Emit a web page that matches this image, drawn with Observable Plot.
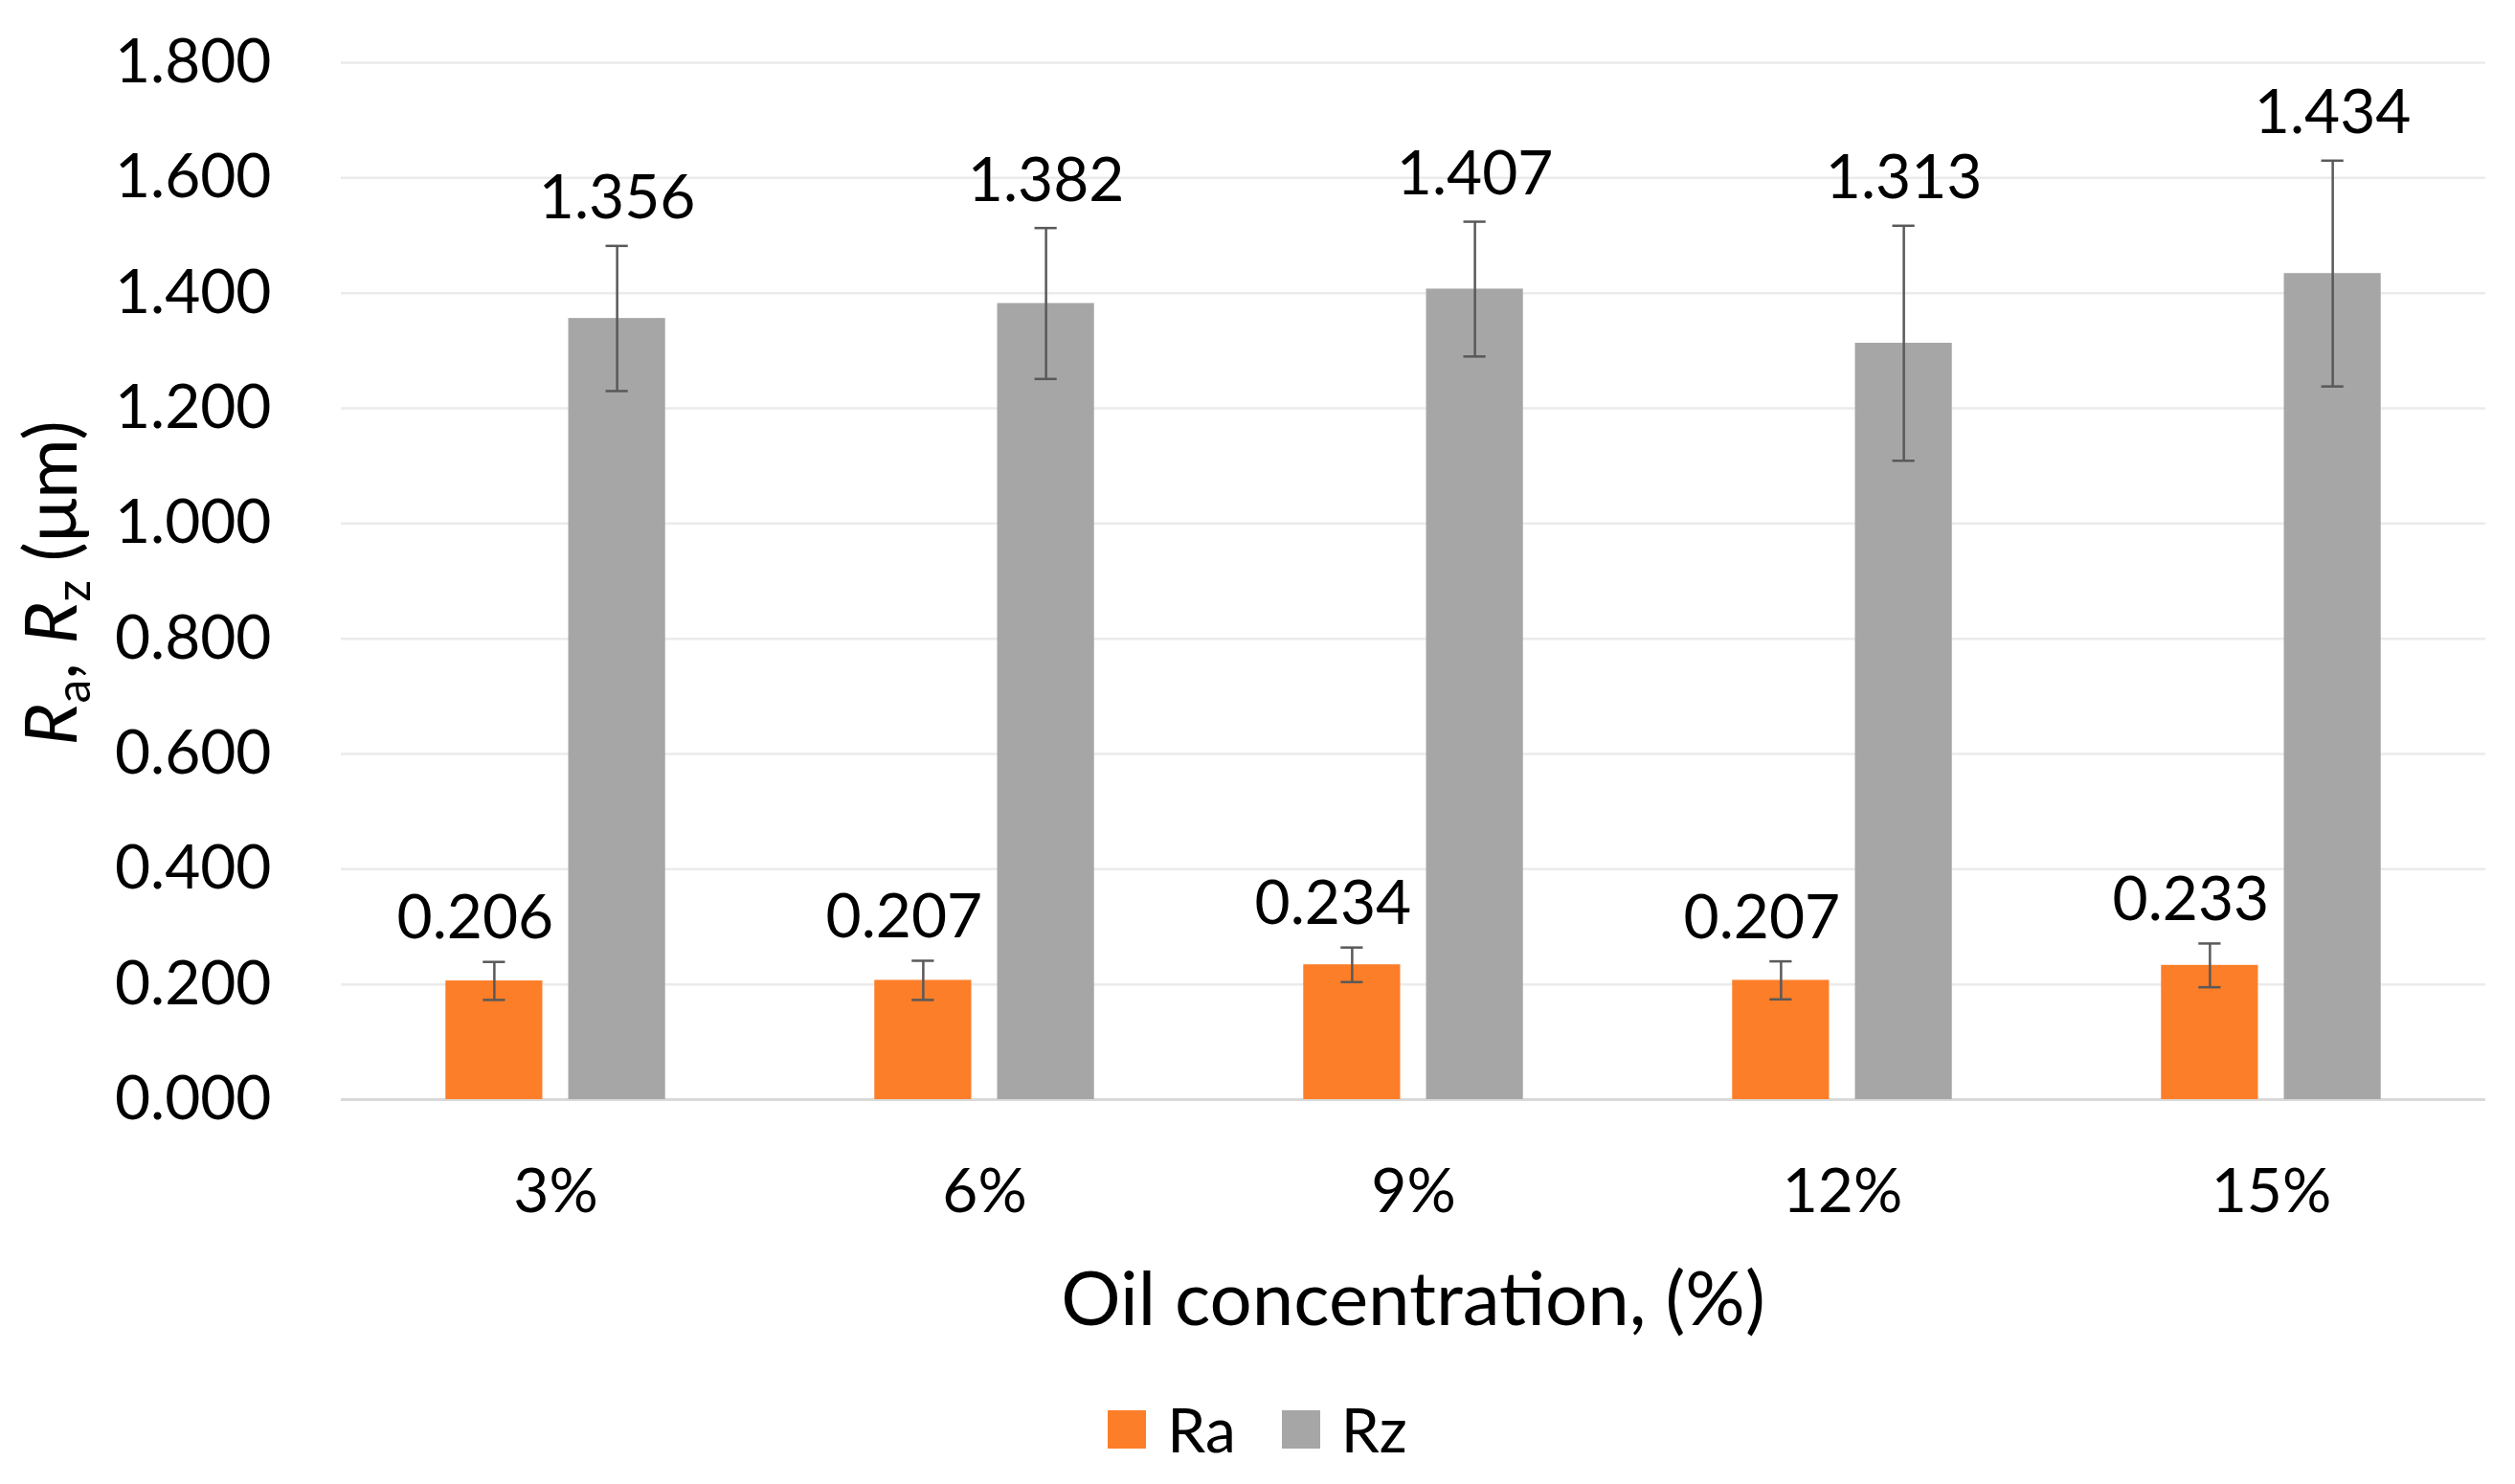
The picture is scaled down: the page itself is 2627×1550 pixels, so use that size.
<!DOCTYPE html>
<html>
<head>
<meta charset="utf-8">
<script src="https://cdn.jsdelivr.net/npm/d3@7"></script>
<script src="https://cdn.jsdelivr.net/npm/@observablehq/plot@0.6"></script>
<style>
  html, body { margin: 0; padding: 0; background: #fff; }
  #chart { width: 2627px; position: relative; font-family: Lato, "Open Sans", sans-serif; }
  #legend { width: 2627px; height: 130px; display: flex; justify-content: center; align-items: flex-start; padding-top: 34px; box-sizing: border-box; }
  #legend > div { font-family: Lato, sans-serif !important; font-size: 64px !important; color: #000 !important; margin: 0 !important; justify-content: center; min-height: 0 !important; }
  #legend > div > span { margin-right: 48px !important; }
  #legend > div > span:last-child { margin-right: 0 !important; }
  #legend > div > span > svg { margin-right: 22px !important; }
</style>
</head>
<body>
<div id="chart"></div>
<div id="legend"></div>
<script>
// ---- data ----
const categories = ["3%", "6%", "9%", "12%", "15%"];
const seriesNames = ["Ra", "Rz"];
const seriesColors = ["#fd7e28", "#a6a6a6"];
const raValues = [0.206, 0.207, 0.234, 0.207, 0.233];
const rzValues = [1.356, 1.382, 1.407, 1.313, 1.434];
const raErrors = [0.033, 0.034, 0.030, 0.033, 0.038];
const rzErrors = [0.126, 0.131, 0.117, 0.204, 0.196];
const yTicks = [0, 0.2, 0.4, 0.6, 0.8, 1.0, 1.2, 1.4, 1.6, 1.8];

// table built from the arrays
const table = [];
categories.forEach((c, i) => {
  table.push({category: c, series: "Ra", value: raValues[i], err: raErrors[i]});
  table.push({category: c, series: "Rz", value: rzValues[i], err: rzErrors[i]});
});
const lo = d => d.value - d.err;
const hi = d => d.value + d.err;
const fmt = d3.format(".3f");
const errColor = "#595959";

const plot = Plot.plot({
  width: 2627,
  height: 1420,
  marginLeft: 356,
  marginRight: 31,
  marginTop: 65,
  marginBottom: 272,
  style: {fontFamily: "Lato, sans-serif", fontSize: "64px", color: "#000", background: "#fff"},
  fx: {domain: categories, paddingInner: 0, paddingOuter: 0, round: false, label: null, axis: "bottom", tickSize: 0, tickPadding: 72},
  x: {domain: seriesNames, paddingInner: 0.211, paddingOuter: 0.852, round: false, axis: null},
  y: {domain: [0, 1.8], ticks: yTicks, tickFormat: fmt, tickSize: 0, tickPadding: 73, label: null},
  color: {domain: seriesNames, range: seriesColors},
  marks: [
    Plot.gridY(yTicks, {stroke: "#ebebeb", strokeOpacity: 1, strokeWidth: 2.5}),
    Plot.ruleY([0], {stroke: "#d9d9d9", strokeWidth: 3}),
    Plot.barY(table, {fx: "category", x: "series", y: "value", fill: "series"}),
    Plot.ruleX(table, {fx: "category", x: "series", y1: lo, y2: hi, stroke: errColor, strokeWidth: 2.5}),
    Plot.tickY(table, {fx: "category", x: "series", y: hi, stroke: errColor, strokeWidth: 2.5, insetLeft: 39, insetRight: 39}),
    Plot.tickY(table, {fx: "category", x: "series", y: lo, stroke: errColor, strokeWidth: 2.5, insetLeft: 39, insetRight: 39}),
    Plot.text(table.filter(d => d.series === "Ra"), {fx: "category", x: "series", y: hi, text: d => fmt(d.value), dy: -45, dx: -20, fontSize: 64, fill: "#000"}),
    Plot.text(table.filter(d => d.series === "Rz"), {fx: "category", x: "series", y: hi, text: d => fmt(d.value), dy: -49, fontSize: 64, fill: "#000"})
  ]
});

// axis titles (rich text with subscripts)
const svg = d3.select(plot);
const yl = svg.append("text")
  .attr("transform", "translate(80,609) rotate(-90)")
  .attr("text-anchor", "middle")
  .attr("font-family", "Lato, sans-serif")
  .attr("font-size", 76)
  .attr("fill", "#000");
yl.append("tspan").attr("font-style", "italic").text("R");
yl.append("tspan").attr("font-size", 50).attr("dy", 14).text("a");
yl.append("tspan").attr("dy", -14).text(", ");
yl.append("tspan").attr("font-style", "italic").text("R");
yl.append("tspan").attr("font-size", 50).attr("dy", 14).text("z");
yl.append("tspan").attr("dy", -14).text(" (μm)");

svg.append("text")
  .attr("x", 1476)
  .attr("y", 1384)
  .attr("text-anchor", "middle")
  .attr("font-family", "Lato, sans-serif")
  .attr("font-size", 78)
  .attr("fill", "#000")
  .text("Oil concentration, (%)");

document.getElementById("chart").appendChild(plot);

const legend = Plot.legend({color: {domain: seriesNames, range: seriesColors}, swatchSize: 40});
document.getElementById("legend").appendChild(legend);
</script>
</body>
</html>
